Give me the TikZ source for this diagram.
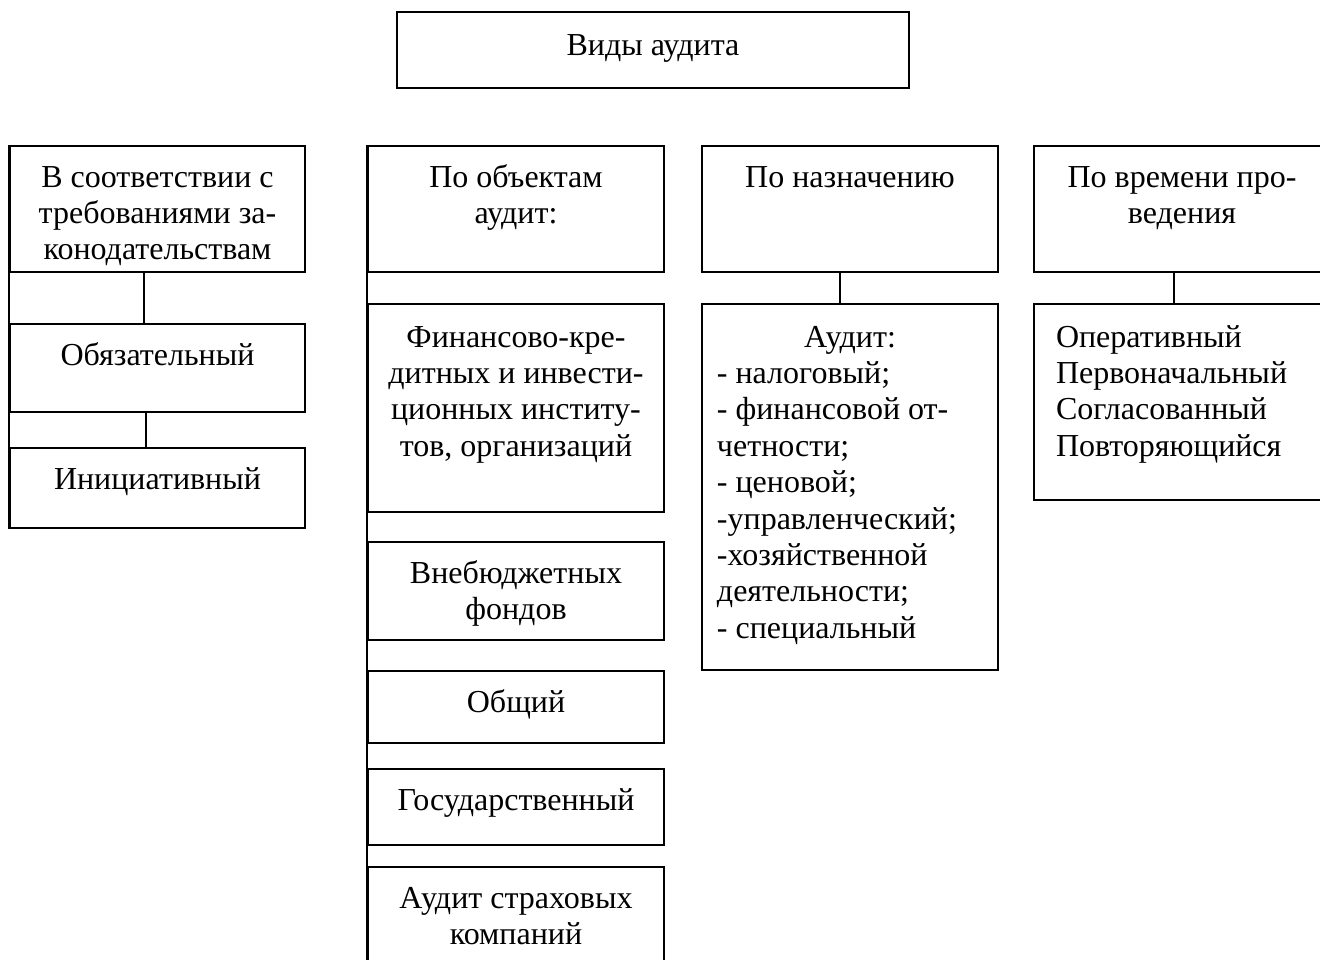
\documentclass[tikz,border=0pt]{standalone}
\usepackage{fontspec}
\setmainfont{Liberation Serif}
\usepackage{tikz}
\usetikzlibrary{fit}

\begin{document}
\begin{tikzpicture}[x=0.4375pt,y=-0.4375pt,line width=0.8pt,
        frame/.style={draw,inner sep=0pt,line width=0.8pt},
        lbl/.style={anchor=north,inner sep=0pt,align=flush center,text width=122.5pt,yshift=-6.9pt,
            font=\fontsize{14pt}{15.9pt}\selectfont,execute at begin node=\strut},
        lst/.style={lbl,align=flush left,yshift=-0.9pt}]
            \useasboundingbox (0,0) rectangle (1320,959);
            \clip (0,0) rectangle (1320,959);

            \node[frame,fit={(397,12) (909,88)}] (kinds) {};
            \node[lbl,yshift=-0.9pt] (kindst) at (kinds.north) {Виды аудита};

            \node[frame,fit={(10,146) (305,272)}] (law) {};
            \node[frame,fit={(10,324) (305,412)}] (must) {};
            \node[frame,fit={(10,448) (305,528)}] (init) {};
            \node[lbl] (lawt) at (law.north) {В соответствии с\\требованиями за-\\конодательствам};
            \node[lbl] (mustt) at (must.north) {Обязательный};
            \node[lbl] (initt) at (init.north) {Инициативный};

            \node[frame,fit={(368,146) (664,272)}] (obj) {};
            \node[frame,fit={(368,304) (664,512)}] (fin) {};
            \node[frame,fit={(368,542) (664,640)}] (fund) {};
            \node[frame,fit={(368,671) (664,743)}] (gen) {};
            \node[frame,fit={(368,769) (664,845)}] (gov) {};
            \node[frame,fit={(368,867) (664,980)}] (ins) {};
            \node[lbl] (objt) at (obj.north) {По объектам\\аудит:};
            \node[lbl,yshift=-0.9pt] (fint) at (fin.north) {Финансово-кре-\\дитных и инвести-\\ционных институ-\\тов, организаций};
            \node[lbl] (fundt) at (fund.north) {Внебюджетных\\фондов};
            \node[lbl] (gent) at (gen.north) {Общий};
            \node[lbl] (govt) at (gov.north) {Государственный};
            \node[lbl] (inst) at (ins.north) {Аудит страховых\\компаний};

            \node[frame,fit={(702,146) (998,272)}] (purp) {};
            \node[frame,fit={(702,304) (998,670)}] (aud) {};
            \node[lbl] (purpt) at (purp.north) {По назначению};
            \node[lst,text width=116.4pt] (audt) at (aud.north) {\hfill Аудит:\hfill\null\\- налоговый;\\- финансовой от-\\четности;\\- ценовой;\\-управленческий;\\-хозяйственной\\деятельности;\\- специальный};

            \node[frame,fit={(1034,146) (1330,272)}] (time) {};
            \node[frame,fit={(1034,304) (1330,500)}] (when) {};
            \node[lbl] (timet) at (time.north) {По времени про-\\ведения};
            \node[lst,text width=110.25pt] (whent) at (when.north) {Оперативный\\Первоначальный\\Согласованный\\Повторяющийся};

            \draw (law.north west) -- (init.south west);
            \draw ([xshift=-5.9pt]law.south) -- ([xshift=-5.9pt]must.north);
            \draw ([xshift=-5pt]must.south) -- ([xshift=-5pt]init.north);
            \draw (obj.north west) -- (ins.south west);
            \draw ([xshift=-4.4pt]purp.south) -- ([xshift=-4.4pt]aud.north);
            \draw ([xshift=-3.5pt]time.south) -- ([xshift=-3.5pt]when.north);
        \end{tikzpicture}
\end{document}
